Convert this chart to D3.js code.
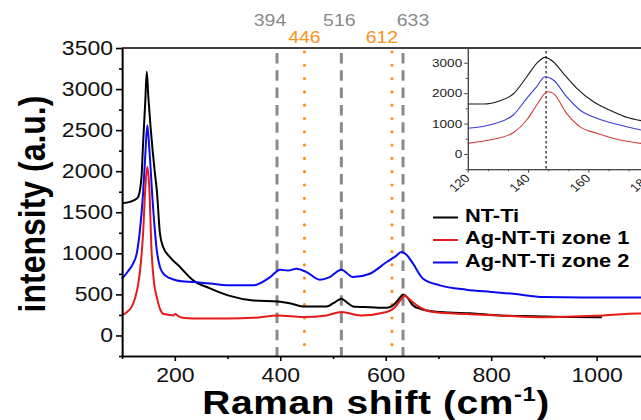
<!DOCTYPE html>
<html lang="en">
<head>
<meta charset="utf-8">
<title>Raman spectra</title>
<script src="https://cdn.jsdelivr.net/npm/d3@7"></script>
<style>
  body { margin: 0; padding: 0; background: #fff; }
  svg { display: block; font-family: "Liberation Sans", Arial, sans-serif; }
  .axis path, .axis line { stroke: #000; stroke-width: 1.6; vector-effect: non-scaling-stroke; }
  .axis text { fill: #111; font-size: 19.5px; }
  .inset path, .inset line { stroke: #444; stroke-width: 1; vector-effect: non-scaling-stroke; }
  .inset text { fill: #222; font-size: 11.5px; }
  .spec { fill: none; stroke-linejoin: round; vector-effect: non-scaling-stroke; }
</style>
</head>
<body>
<svg id="chart"></svg>
<script>
// ---- data ----
var ntTiX = [100,115,128,131,137,140,144,147,150,154,158,162,166,172,178,191,210,235,267,301,349,396,420,443,488,505,516,527,538,570,602,618,626,633,640,652,668,684,720,760,817,880,950,1010];
var ntTiY = [1610,1626,1667,1690,1930,2340,2830,3210,2900,2550,2256,2000,1770,1240,1077,955,833,671,573,488,427,415,390,354,354,410,447,400,354,345,337,390,450,500,470,366,320,297,280,270,244,235,225,223];

var zone1X = [100,110,118,125,131,136,140,144,148,152,156,161,166,172,178,190,197,201,206,215,235,301,349,396,443,488,516,553,602,618,628,636,645,659,690,753,817,900,1000,1082,1200];
var zone1Y = [244,290,345,460,634,900,1244,1769,2053,1769,1037,630,467,325,265,250,244,260,240,215,207,207,215,244,224,244,285,244,285,346,430,488,440,366,285,260,244,223,240,268,268];

var zone2X = [100,110,121,128,134,140,144,148,152,158,166,172,178,190,204,235,267,301,349,381,400,415,431,450,475,494,516,538,570,602,618,630,640,652,671,703,753,800,842,899,974,1082,1200];
var zone2Y = [690,770,875,1000,1280,1730,2175,2560,2256,1646,1037,833,756,700,670,650,634,610,610,711,801,790,813,772,679,711,801,711,752,894,960,1016,980,874,691,610,557,530,508,467,463,463,460];

// inset (zoom on the 146 cm-1 band)
var insNtTiX = [120,125.2,130.7,135.1,139.6,142.9,145.7,148.4,151.7,156.2,161.7,168.3,172.7,177.5];
var insNtTiY = [1643,1643,1752,1971,2540,2980,3177,3033,2650,2158,1718,1390,1205,1095];
var insZone2X = [120,128.5,135.1,139.6,142.9,145.6,148.4,152.8,157.2,162.8,170.5,177.5];
var insZone2Y = [844,985,1281,1829,2212,2540,2431,1883,1445,1172,952,788];
var insZone1X = [120,128.5,135.1,139.6,142.9,145.6,146.7,148.4,152.8,157.2,162.8,170.5,177.5];
var insZone1Y = [350,482,700,1117,1610,1993,2047,1993,1336,898,679,460,350];

var grayBands = [394, 516, 633];
var orangeBands = [446, 612];
var insetBand = 146;

var xTicks = [200, 400, 600, 800, 1000];
var yTicks = [0, 500, 1000, 1500, 2000, 2500, 3000, 3500];
var insXTicks = [120, 140, 160, 180];
var insYTicks = [0, 1000, 2000, 3000];

var seriesNames = ["NT-Ti", "Ag-NT-Ti zone 1", "Ag-NT-Ti zone 2"];
var seriesColors = ["#000000", "#e51b1b", "#0a0aee"];
var insetColors = ["#1a1a1a", "#d23c3c", "#3a3ad8"];

// ---- layout ----
var SX = 1.18; // the source figure is stretched horizontally
var W = 641, H = 420;
function px(v) { return v / SX; } // screen px -> inner units (x only)

// small shifts so the band labels don't collide (screen px)
var labelShift = {394: -7, 446: 0, 516: -2, 612: -10, 633: 10};

var fmt = d3.format("d");

var svg = d3.select("#chart")
    .attr("width", W).attr("height", H)
    .attr("viewBox", "0 0 " + (W / SX) + " " + H)
    .attr("preserveAspectRatio", "none");

var x = d3.scaleLinear().domain([100, 1200]).range([px(122), px(702)]);
var y = d3.scaleLinear().domain([-250, 3500]).range([356, 48]);

// vertical band markers
grayBands.forEach(function(b) {
    svg.append("line")
        .attr("x1", x(b)).attr("x2", x(b)).attr("y1", 48).attr("y2", 356)
        .attr("stroke", "#8a8a8a").attr("stroke-width", 3)
        .attr("stroke-dasharray", "10.5,6.8").attr("stroke-dashoffset", -5)
        .style("vector-effect", "non-scaling-stroke");
    svg.append("text")
        .attr("x", x(b) + px(labelShift[b])).attr("y", 26.5)
        .attr("text-anchor", "middle").attr("font-size", 16.5)
        .attr("fill", "#8a8a8a").text(b);
});
orangeBands.forEach(function(b) {
    svg.append("line")
        .attr("x1", x(b)).attr("x2", x(b)).attr("y1", 52).attr("y2", 356)
        .attr("stroke", "#f7931e").attr("stroke-width", 3.2)
        .attr("stroke-linecap", "round")
        .attr("stroke-dasharray", "0,13.3")
        .style("vector-effect", "non-scaling-stroke");
    svg.append("text")
        .attr("x", x(b) + px(labelShift[b])).attr("y", 43)
        .attr("text-anchor", "middle").attr("font-size", 16.5)
        .attr("fill", "#f7931e").text(b);
});

// spectra
var line = d3.line()
    .x(function(d) { return x(d[0]); })
    .y(function(d) { return y(d[1]); })
    .curve(d3.curveMonotoneX);

var spectra = [
    d3.zip(ntTiX, ntTiY),
    d3.zip(zone1X, zone1Y),
    d3.zip(zone2X, zone2Y)
];
[0, 2, 1].forEach(function(i) {
    svg.append("path")
        .datum(spectra[i])
        .attr("class", "spec")
        .attr("d", line)
        .attr("stroke", seriesColors[i])
        .attr("stroke-width", 2);
});

// axes
var xMinor = d3.range(100, 1201, 100).filter(function(v) { return xTicks.indexOf(v) < 0; });
var yMinor = d3.range(-250, 3501, 500);

svg.append("g").attr("class", "axis")
    .attr("transform", "translate(0,356)")
    .call(d3.axisBottom(x).tickValues(xTicks).tickFormat(fmt).tickSize(5).tickPadding(7).tickSizeOuter(0));
svg.append("g").attr("class", "axis")
    .attr("transform", "translate(0,356)")
    .call(d3.axisBottom(x).tickValues(xMinor).tickSize(3).tickFormat("").tickSizeOuter(0));

svg.append("g").attr("class", "axis")
    .attr("transform", "translate(" + x(100) + ",0)")
    .call(d3.axisLeft(y).tickValues(yTicks).tickFormat(fmt).tickSize(px(6)).tickPadding(px(3)).tickSizeOuter(0));
svg.append("g").attr("class", "axis")
    .attr("transform", "translate(" + x(100) + ",0)")
    .call(d3.axisLeft(y).tickValues(yMinor).tickSize(px(3)).tickFormat("").tickSizeOuter(0));

// top frame
svg.append("line").attr("class", "frame")
    .attr("x1", x(100)).attr("x2", W / SX).attr("y1", 48).attr("y2", 48)
    .attr("stroke", "#000").attr("stroke-width", 1.6)
    .style("vector-effect", "non-scaling-stroke");

// axis titles
svg.append("text")
    .attr("transform", "translate(" + px(45) + ",204) rotate(-90)")
    .attr("text-anchor", "middle")
    .attr("font-size", 32).attr("font-weight", "bold")
    .text("intensity (a.u.)");

var xt = svg.append("text")
    .attr("x", px(376)).attr("y", 414)
    .attr("text-anchor", "middle")
    .attr("font-size", 33).attr("font-weight", "bold")
    .attr("letter-spacing", 0.5);
xt.append("tspan").text("Raman shift (cm");
xt.append("tspan").attr("font-size", 20).attr("dy", -13).text("-1");
xt.append("tspan").attr("dy", 13).text(")");

// legend
var legend = svg.append("g").selectAll("g")
    .data(seriesNames).enter().append("g")
    .attr("transform", function(d, i) { return "translate(0," + (217.5 + i * 22.5) + ")"; });
legend.append("line")
    .attr("x1", px(433)).attr("x2", px(458))
    .attr("stroke", function(d, i) { return seriesColors[i]; })
    .attr("stroke-width", 2)
    .style("vector-effect", "non-scaling-stroke");
legend.append("text")
    .attr("x", px(465)).attr("y", 4)
    .attr("font-size", 18.5).attr("font-weight", "bold")
    .text(function(d) { return d; });

// ---- inset ----
var ix = d3.scaleLinear().domain([120, 200]).range([px(467.7), px(467.7 + 80 * 3.015)]);
var iy = d3.scaleLinear().domain([-500, 3500]).range([169.2, 47.5]);

svg.append("line")
    .attr("x1", ix(insetBand)).attr("x2", ix(insetBand)).attr("y1", 51).attr("y2", 169)
    .attr("stroke", "#222").attr("stroke-width", 1.3)
    .attr("stroke-dasharray", "2.5,2.5")
    .style("vector-effect", "non-scaling-stroke");

var iline = d3.line()
    .x(function(d) { return ix(d[0]); })
    .y(function(d) { return iy(d[1]); })
    .curve(d3.curveMonotoneX);
var insetData = [
    d3.zip(insNtTiX, insNtTiY),
    d3.zip(insZone1X, insZone1Y),
    d3.zip(insZone2X, insZone2Y)
];
insetData.forEach(function(s, i) {
    svg.append("path")
        .datum(s)
        .attr("class", "spec")
        .attr("d", iline)
        .attr("stroke", insetColors[i])
        .attr("stroke-width", 1.1);
});

var insXMinor = d3.range(120, 201, 20 / 3).filter(function(v) {
    return Math.abs((v - 120) % 20) > 0.5 && Math.abs((v - 120) % 20 - 20) > 0.5;
});
var insYMinor = [-500, 500, 1500, 2500, 3500];

var ibx = svg.append("g").attr("class", "inset")
    .attr("transform", "translate(0,169.2)")
    .call(d3.axisBottom(ix).tickValues(insXTicks).tickFormat(fmt).tickSize(3.5).tickSizeOuter(0));
ibx.selectAll(".tick text")
    .attr("x", 0).attr("y", 0).attr("dy", "0.35em")
    .attr("text-anchor", "end")
    .attr("transform", "translate(" + px(-1) + ",7) rotate(-45)");
svg.append("g").attr("class", "inset")
    .attr("transform", "translate(0,169.2)")
    .call(d3.axisBottom(ix).tickValues(insXMinor).tickSize(2).tickFormat("").tickSizeOuter(0));

svg.append("g").attr("class", "inset")
    .attr("transform", "translate(" + ix(120) + ",0)")
    .call(d3.axisLeft(iy).tickValues(insYTicks).tickFormat(fmt).tickSize(px(3.5)).tickPadding(px(2)).tickSizeOuter(0));
svg.append("g").attr("class", "inset")
    .attr("transform", "translate(" + ix(120) + ",0)")
    .call(d3.axisLeft(iy).tickValues(insYMinor).tickSize(px(2)).tickFormat("").tickSizeOuter(0));
</script>
</body>
</html>
